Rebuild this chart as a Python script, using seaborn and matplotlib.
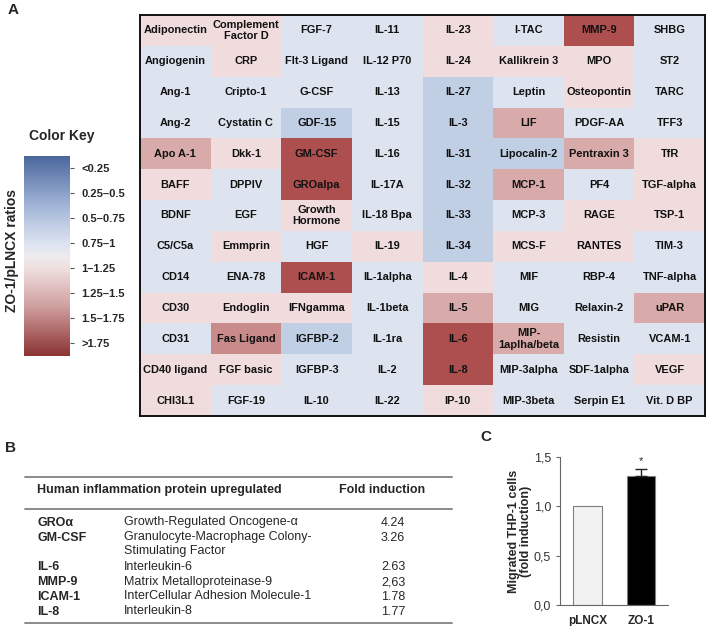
import matplotlib
matplotlib.use('Agg')
import matplotlib.pyplot as plt
from matplotlib.colors import ListedColormap, BoundaryNorm, LinearSegmentedColormap, Normalize
from matplotlib.cm import ScalarMappable
import seaborn as sns
import numpy as np
import pandas as pd

# ---- panel A: cytokine array, one list per grid column (top to bottom)
col_names = [
    ['Adiponectin', 'Angiogenin', 'Ang-1', 'Ang-2', 'Apo A-1', 'BAFF', 'BDNF',
     'C5/C5a', 'CD14', 'CD30', 'CD31', 'CD40 ligand', 'CHI3L1'],
    ['Complement\nFactor D', 'CRP', 'Cripto-1', 'Cystatin C', 'Dkk-1', 'DPPIV', 'EGF',
     'Emmprin', 'ENA-78', 'Endoglin', 'Fas Ligand', 'FGF basic', 'FGF-19'],
    ['FGF-7', 'Flt-3 Ligand', 'G-CSF', 'GDF-15', 'GM-CSF', 'GROalpa', 'Growth\nHormone',
     'HGF', 'ICAM-1', 'IFNgamma', 'IGFBP-2', 'IGFBP-3', 'IL-10'],
    ['IL-11', 'IL-12 P70', 'IL-13', 'IL-15', 'IL-16', 'IL-17A', 'IL-18 Bpa',
     'IL-19', 'IL-1alpha', 'IL-1beta', 'IL-1ra', 'IL-2', 'IL-22'],
    ['IL-23', 'IL-24', 'IL-27', 'IL-3', 'IL-31', 'IL-32', 'IL-33',
     'IL-34', 'IL-4', 'IL-5', 'IL-6', 'IL-8', 'IP-10'],
    ['I-TAC', 'Kallikrein 3', 'Leptin', 'LIF', 'Lipocalin-2', 'MCP-1', 'MCP-3',
     'MCS-F', 'MIF', 'MIG', 'MIP-\n1aplha/beta', 'MIP-3alpha', 'MIP-3beta'],
    ['MMP-9', 'MPO', 'Osteopontin', 'PDGF-AA', 'Pentraxin 3', 'PF4', 'RAGE',
     'RANTES', 'RBP-4', 'Relaxin-2', 'Resistin', 'SDF-1alpha', 'Serpin E1'],
    ['SHBG', 'ST2', 'TARC', 'TFF3', 'TfR', 'TGF-alpha', 'TSP-1',
     'TIM-3', 'TNF-alpha', 'uPAR', 'VCAM-1', 'VEGF', 'Vit. D BP'],
]
# ZO-1/pLNCX ratios (estimated from the colour bins)
col_ratios = [
    [1.1, 0.9, 0.9, 0.9, 1.4, 1.1, 0.9, 0.9, 0.9, 1.1, 0.9, 1.1, 1.1],
    [1.1, 1.1, 0.9, 0.9, 1.1, 0.9, 0.9, 1.1, 0.9, 1.1, 1.6, 1.1, 0.9],
    [0.9, 0.9, 0.9, 0.6, 3.26, 4.24, 1.1, 0.9, 1.78, 1.1, 0.6, 0.9, 0.9],
    [0.9, 0.9, 0.9, 0.9, 0.9, 0.9, 0.9, 1.1, 0.9, 0.9, 0.9, 0.9, 0.9],
    [1.1, 1.1, 0.6, 0.6, 0.6, 0.6, 0.6, 0.6, 1.1, 1.4, 2.63, 1.77, 1.1],
    [0.9, 1.1, 0.9, 1.4, 0.6, 1.4, 0.9, 1.1, 0.9, 0.9, 1.4, 0.9, 0.9],
    [2.63, 1.1, 1.1, 0.9, 1.4, 0.9, 1.1, 1.1, 0.9, 0.9, 0.9, 0.9, 0.9],
    [0.9, 0.9, 0.9, 0.9, 1.1, 1.1, 1.1, 0.9, 0.9, 1.4, 0.9, 1.1, 0.9],
]
key_labels = ['<0.25', '0.25\u20130.5', '0.5\u20130.75', '0.75\u20131', '1\u20131.25',
              '1.25\u20131.5', '1.5\u20131.75', '>1.75']
bin_edges = [0, 0.25, 0.5, 0.75, 1.0, 1.25, 1.5, 1.75, 10]
bin_colors = ['#5470a5', '#9fb3d6', '#c1cfe5', '#dde3ef', '#f0dcdc', '#d9aaaa', '#c98a8a', '#ad4f4f']

# ---- panel B: table
prot_short = ['GRO\u03b1', 'GM-CSF', 'IL-6', 'MMP-9', 'ICAM-1', 'IL-8']
prot_long = ['Growth-Regulated Oncogene-\u03b1', 'Granulocyte-Macrophage Colony-\nStimulating Factor',
             'Interleukin-6', 'Matrix Metalloproteinase-9', 'InterCellular Adhesion Molecule-1',
             'Interleukin-8']
fold_induction = ['4.24', '3.26', '2.63', '2,63', '1.78', '1.77']

# ---- panel C: migration assay
groups = ['pLNCX', 'ZO-1']
migration = [1.0, 1.31]
migration_err = [0.0, 0.07]

sns.set_style('white')
plt.rcParams['font.family'] = ['Liberation Sans', 'DejaVu Sans']

W, H = 708, 626
fig = plt.figure(figsize=(W / 100, H / 100), dpi=100)


def px_axes(x0, y0, x1, y1):
    return fig.add_axes([x0 / W, 1 - y1 / H, (x1 - x0) / W, (y1 - y0) / H])


# heatmap
ratios = pd.DataFrame(np.array(col_ratios).T)
labels = np.array(col_names, dtype=object).T
axh = px_axes(140, 15, 705, 416)
sns.heatmap(ratios, cmap=ListedColormap(bin_colors), norm=BoundaryNorm(bin_edges, len(bin_colors)),
            annot=labels, fmt='', cbar=False, xticklabels=False, yticklabels=False,
            annot_kws={'fontsize': 7.9, 'fontweight': 'bold', 'color': '#111111', 'linespacing': 1.2},
            ax=axh)
for s in axh.spines.values():
    s.set_visible(True)
    s.set_color('#111111')
    s.set_linewidth(1.4)

# colour key
key_cmap = LinearSegmentedColormap.from_list('key', [
    (0.0, '#4a669c'), (0.25, '#a3b6d8'), (0.44, '#dde3f0'), (0.5, '#ecebef'),
    (0.57, '#eedcdc'), (0.75, '#d0a0a0'), (1.0, '#8c3333')])
cax = px_axes(24, 156, 70, 356)
cb = fig.colorbar(ScalarMappable(norm=Normalize(0, 8), cmap=key_cmap.reversed()), cax=cax)
cb.outline.set_visible(False)
cb.set_ticks(np.arange(8) + 0.5)
cb.set_ticklabels(key_labels[::-1])
cax.tick_params(axis='y', length=3, width=0.8, color='#555555', pad=5, labelsize=8)
for t in cax.get_yticklabels():
    t.set_fontweight('bold')
fig.text(29 / W, 1 - 136 / H, 'Color Key', fontsize=10, fontweight='bold', va='center')
fig.text(12 / W, 1 - 250 / H, 'ZO-1/pLNCX ratios', fontsize=10, fontweight='bold',
         rotation=90, ha='center', va='center')

# overlay for panel letters and table
axt = fig.add_axes([0, 0, 1, 1])
axt.set_xlim(0, W)
axt.set_ylim(H, 0)
axt.axis('off')
axt.text(8, 10, 'A', fontsize=11, fontweight='bold', va='center')
axt.text(5, 448, 'B', fontsize=11, fontweight='bold', va='center')
axt.text(480, 437, 'C', fontsize=11, fontweight='bold', va='center')

for yy in (477, 509, 623):
    axt.plot([25, 452], [yy, yy], color='#8a8a8a', lw=1.4)
axt.text(37, 490, 'Human inflammation protein upregulated', fontsize=9, fontweight='bold', va='center')
axt.text(382, 490, 'Fold induction', fontsize=9, fontweight='bold', va='center', ha='center')
y = 523
for name, desc, fold in zip(prot_short, prot_long, fold_induction):
    axt.text(37, y, name, fontsize=9, fontweight='bold', va='center')
    axt.text(124, y - 6.5, desc, fontsize=9, va='top', linespacing=1.2)
    axt.text(393, y, fold, fontsize=9, ha='center', va='center')
    y += 14.8 * (desc.count('\n') + 1)

# bar chart
axc = px_axes(560, 457, 668, 605)
dfc = pd.DataFrame({'group': groups, 'value': migration})
sns.barplot(data=dfc, x='group', y='value', hue='group', palette=['#f2f2f2', '#000000'],
            width=0.54, edgecolor='#7f7f7f', linewidth=0.8, legend=False, ax=axc)
err = np.array(migration_err)
idx = np.where(err > 0)[0]
axc.errorbar(idx, np.array(migration)[idx], yerr=[np.zeros(len(idx)), err[idx]], fmt='none',
             ecolor='#222222', elinewidth=1, capsize=4)
for i in idx:
    axc.text(i, migration[i] + err[i] + 0.03, '*', ha='center', va='bottom', fontsize=8)
axc.set_xlim(-0.514, 1.505)
axc.set_ylim(0, 1.5)
ticks = [0, 0.5, 1.0, 1.5]
axc.set_yticks(ticks)
axc.set_yticklabels([f'{v:.1f}'.replace('.', ',') for v in ticks], fontsize=9, color='#333333')
axc.tick_params(axis='y', left=True, length=3, color='#666666')
axc.tick_params(axis='x', bottom=False, labelsize=8.5)
for t in axc.get_xticklabels():
    t.set_fontweight('bold')
axc.set_xlabel('')
axc.set_ylabel('Migrated THP-1 cells\n(fold induction)', fontsize=9, fontweight='bold',
               labelpad=1, linespacing=1.05)
sns.despine(ax=axc)
for s in ('left', 'bottom'):
    axc.spines[s].set_color('#666666')
    axc.spines[s].set_linewidth(0.8)

fig.savefig('out.png', dpi=100)
